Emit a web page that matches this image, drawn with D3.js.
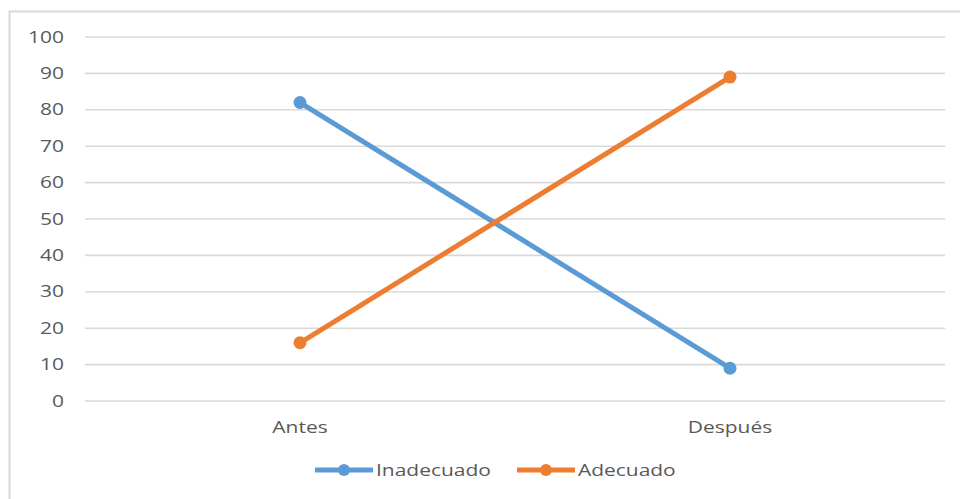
<!DOCTYPE html>
<html><head><meta charset="utf-8">
<script src="https://cdn.jsdelivr.net/npm/d3@7"></script>
<style>body{margin:0;background:#fff}svg{display:block}</style>
</head><body>
<svg id="c" width="960" height="499"></svg>
<script>
const categories = ["Antes", "Después"];
const inadecuado = [82, 9];
const adecuado = [16, 89];
const yTicks = [0,10,20,30,40,50,60,70,80,90,100];
const seriesNames = ["Inadecuado", "Adecuado"];
const colors = ["#5B9BD5", "#ED7D31"];

const svg = d3.select("#c");
const font = "'Open Sans', sans-serif";
const sx = "scale(1.31,1)";
// frame
svg.append("path").attr("d","M9.5,499 V11.5 H960").attr("fill","none").attr("stroke","#d9d9d9").attr("stroke-width",2);

const x = d3.scaleBand().domain(categories).range([85, 945]);
const y = d3.scaleLinear().domain([0,100]).range([401, 37]);

const grid = svg.append("g");
grid.selectAll("line").data(yTicks).join("line")
  .attr("x1",85).attr("x2",945).attr("y1",d=>y(d)).attr("y2",d=>y(d))
  .attr("stroke","#d9d9d9").attr("stroke-width",1.6);

const yAxis = svg.append("g").attr("transform","translate(64,0)")
  .call(d3.axisLeft(y).tickValues(yTicks).tickSize(0).tickPadding(0));
yAxis.select(".domain").remove();
yAxis.selectAll("text").attr("font-family",font).attr("font-size",16).attr("fill","#595959").attr("transform",sx);

const xAxis = svg.append("g").attr("transform","translate(0,422)")
  .call(d3.axisBottom(x).tickSize(0).tickPadding(0));
xAxis.select(".domain").remove();
xAxis.selectAll("text").attr("font-family",font).attr("font-size",16).attr("fill","#595959").attr("transform",sx);

const data = [inadecuado, adecuado];
const line = d3.line().x((d,i)=>x(categories[i])+x.bandwidth()/2).y(d=>y(d));
data.forEach((s,k)=>{
  svg.append("path").attr("d",line(s)).attr("fill","none").attr("stroke",colors[k]).attr("stroke-width",5);
  svg.selectAll(null).data(s).join("circle")
    .attr("cx",(d,i)=>x(categories[i])+x.bandwidth()/2).attr("cy",d=>y(d)).attr("r",6.5).attr("fill",colors[k]);
});

// legend
const legX = [315, 517];
const lg = svg.append("g");
seriesNames.forEach((n,k)=>{
  const g = lg.append("g").attr("transform",`translate(${legX[k]},470)`);
  g.append("line").attr("x1",0).attr("x2",58).attr("stroke",colors[k]).attr("stroke-width",5);
  g.append("circle").attr("cx",29).attr("r",6).attr("fill",colors[k]);
  g.append("g").attr("transform","translate(61,0)")
    .append("text").attr("dy","0.35em").attr("font-family",font).attr("font-size",16).attr("fill","#595959").attr("transform",sx).text(n);
});
</script>
</body></html>
